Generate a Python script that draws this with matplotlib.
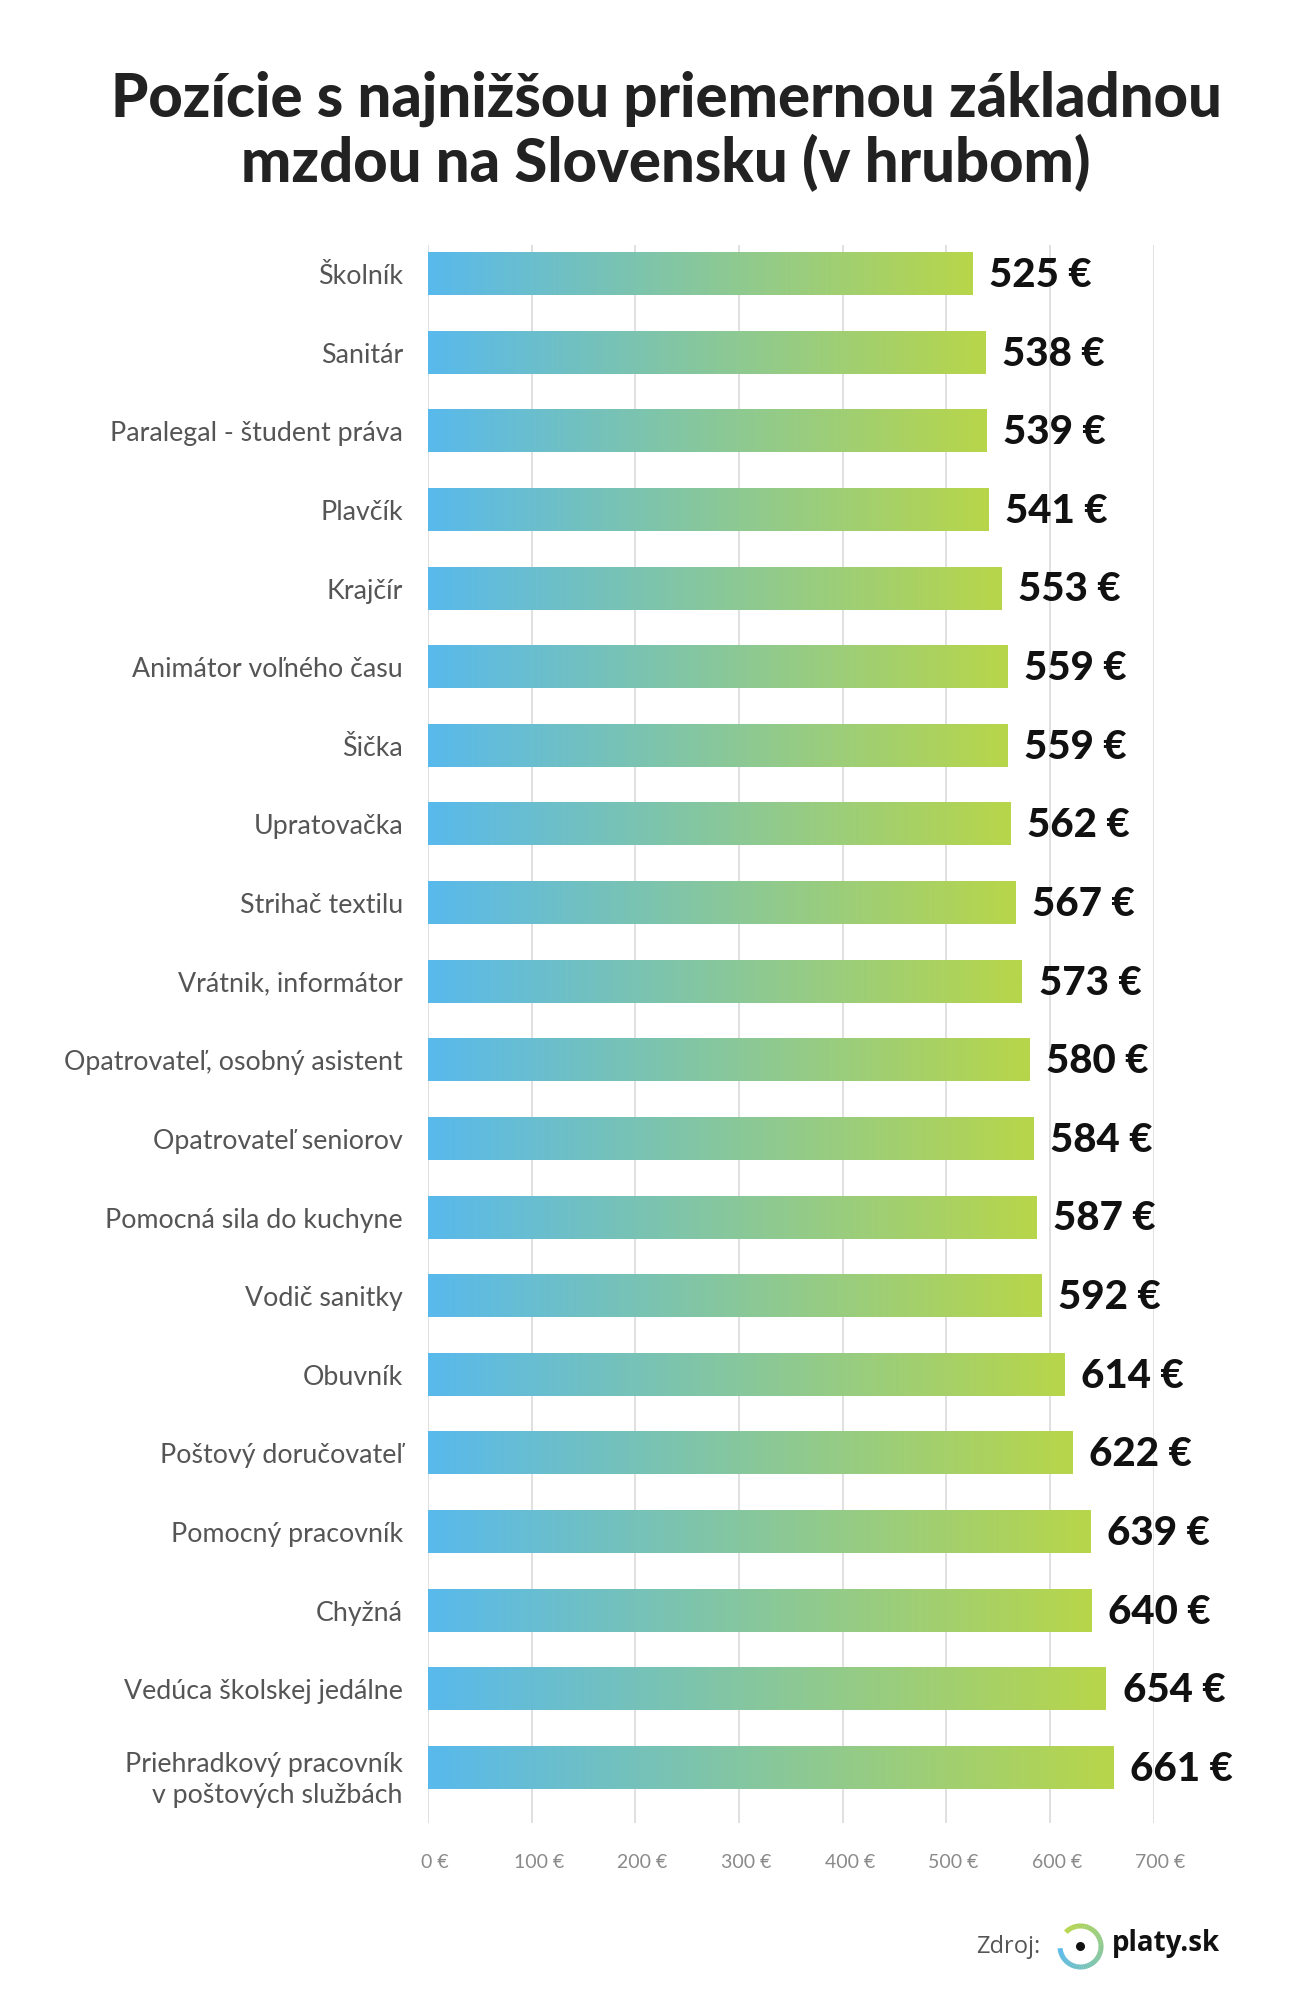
import numpy as np
import matplotlib
matplotlib.use("Agg")
import matplotlib.pyplot as plt
from matplotlib.colors import LinearSegmentedColormap
from matplotlib.patches import Wedge, Circle
from matplotlib.transforms import ScaledTranslation

# data
positions = [
    "Školník",
    "Sanitár",
    "Paralegal - študent práva",
    "Plavčík",
    "Krajčír",
    "Animátor voľného času",
    "Šička",
    "Upratovačka",
    "Strihač textilu",
    "Vrátnik, informátor",
    "Opatrovateľ, osobný asistent",
    "Opatrovateľ seniorov",
    "Pomocná sila do kuchyne",
    "Vodič sanitky",
    "Obuvník",
    "Poštový doručovateľ",
    "Pomocný pracovník",
    "Chyžná",
    "Vedúca školskej jedálne",
    "Priehradkový pracovník\nv poštových službách",
]
salaries = [525, 538, 539, 541, 553, 559, 559, 562, 567, 573,
            580, 584, 587, 592, 614, 622, 639, 640, 654, 661]
xticks = [0, 100, 200, 300, 400, 500, 600, 700]
xtick_labels = [f"{t} €" for t in xticks]

title = "Pozície s najnižšou priemernou základnou\nmzdou na Slovensku (v hrubom)"

BLUE = "#58b9ec"
GREEN = "#b8d64a"
grad_cmap = LinearSegmentedColormap.from_list("bar", [BLUE, GREEN])

W, H = 1300, 2012
fig = plt.figure(figsize=(W / 100, H / 100), dpi=100)
fig.patch.set_facecolor("white")

ax = fig.add_axes([428 / W, 1 - 1823 / H, (1153.6 - 428) / W, (1823 - 245) / H])

bar_h = 0.535
grad = np.linspace(0, 1, 256).reshape(1, -1)
for i, v in enumerate(salaries):
    ax.imshow(grad, cmap=grad_cmap, aspect="auto", interpolation="bilinear",
              extent=[0, v, i + bar_h / 2, i - bar_h / 2], zorder=2)
    ax.annotate(f"{v} €", xy=(v, i), xytext=(12, -1), textcoords="offset points",
                ha="left", va="center", fontsize=29, fontweight="black",
                family="Lato", color="#111111", zorder=3)

ax.set_xlim(0, 700)
ax.set_ylim(len(salaries) - 1 + 0.70, -0.37)
ax.set_xticks(xticks)
ax.set_xticklabels(xtick_labels, family="Lato", fontsize=14, color="#8a8a8a")
ax.set_yticks(range(len(positions)))
ax.set_yticklabels(positions, family="Lato", fontsize=19.3, color="#555555",
                   linespacing=1.3)
ax.tick_params(axis="x", length=0, pad=22)
ax.tick_params(axis="y", length=0, pad=18)
for lbl in ax.get_xticklabels():
    lbl.set_transform(lbl.get_transform() + ScaledTranslation(0.07, 0, fig.dpi_scale_trans))
last = ax.get_yticklabels()[-1]
last.set_transform(last.get_transform() + ScaledTranslation(0, -0.07, fig.dpi_scale_trans))

ax.grid(axis="x", color="#dddddd", linewidth=1.3, zorder=0)
ax.set_axisbelow(True)
for s in ax.spines.values():
    s.set_visible(False)

# overlay in pixel coordinates for title and source logo
ov = fig.add_axes([0, 0, 1, 1], zorder=5)
ov.set_xlim(0, W)
ov.set_ylim(H, 0)
ov.axis("off")
ov.patch.set_alpha(0)

ov.text(666, 99, title.split("\n")[0], ha="center", va="center",
        fontsize=43, fontweight="black", family="Lato", color="#222222")
ov.text(666, 163, title.split("\n")[1], ha="center", va="center",
        fontsize=43, fontweight="black", family="Lato", color="#222222")

ov.text(976, 1947, "Zdroj:", ha="left", va="center", fontsize=17,
        family="Open Sans", color="#555555")

# ring logo
cx, cy, r = 1080.5, 1946.5, 23
start, end = 185, 495  # degrees, drawn in screen orientation
n = 60
angs = np.linspace(start, end, n + 1)
ring = LinearSegmentedColormap.from_list("ring", [BLUE, GREEN])
for k in range(n):
    a0, a1 = angs[k], angs[k + 1] + 0.6
    # y axis is inverted, so negate angles
    ov.add_patch(Wedge((cx, cy), r, -a1, -a0, width=5,
                       color=ring(k / (n - 1)), lw=0))
ov.add_patch(Circle((cx, cy), 3.8, color="#111111"))
ov.text(1112, 1944, "platy.sk", ha="left", va="center", fontsize=20,
        fontweight="bold", family="Open Sans", color="#111111")

fig.savefig("out.png", dpi=100, facecolor="white")
